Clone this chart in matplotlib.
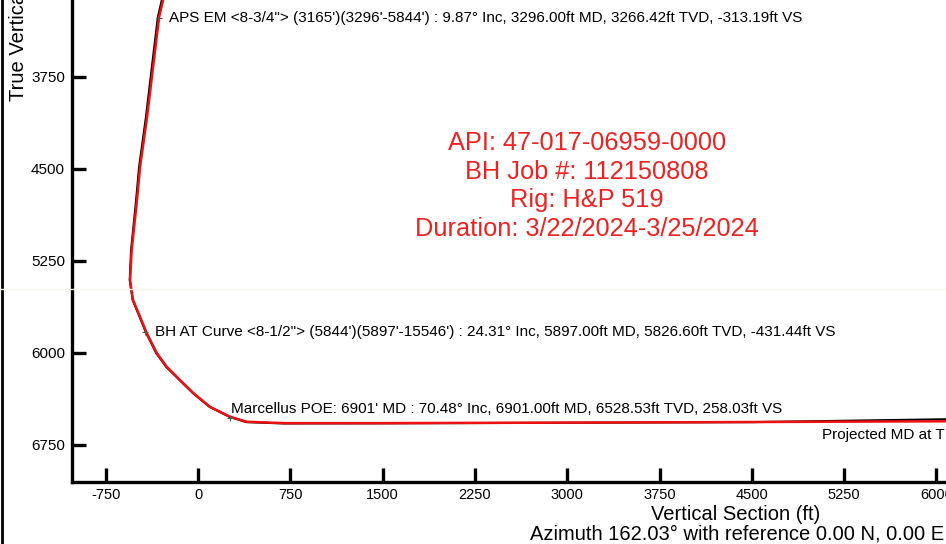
import matplotlib
matplotlib.use("Agg")
import matplotlib.pyplot as plt
from matplotlib.lines import Line2D

plt.rcParams['font.family'] = ['Liberation Sans', 'DejaVu Sans']

# planned wellpath (red)
plan_vs = [0, -20, -100, -230, -284, -316, -365, -414, -471, -496, -539, -552, -528, -471,
           -417, -335, -254, -146, -38, 97, 260, 396, 700, 1500, 3000, 4500, 6100, 9000]
plan_tvd = [0, 1000, 2000, 2800, 3122, 3260, 3668, 4076, 4484, 4753, 5161, 5406, 5569, 5705,
            5838, 6001, 6113, 6221, 6327, 6439, 6520, 6561, 6572, 6572, 6568, 6563, 6557, 6545]

# actual surveys (black)
act_vs = [0, -22, -105, -240, -294, -326, -375, -423, -479, -503, -544, -555, -531, -475,
          -421, -340, -259, -150, -42, 93, 256, 393, 700, 1500, 3000, 4500, 5300, 6100, 9000]
act_tvd = [0, 1000, 2000, 2800, 3122, 3260, 3668, 4076, 4484, 4753, 5161, 5406, 5569, 5705,
           5838, 6001, 6113, 6221, 6327, 6439, 6521, 6564, 6575, 6574, 6569, 6564, 6552, 6540, 6530]

x_ticks = [-750, 0, 750, 1500, 2250, 3000, 3750, 4500, 5250, 6000, 6750, 7500, 8250, 9000]
y_ticks = [0, 750, 1500, 2250, 3000, 3750, 4500, 5250, 6000, 6750]

marker_vs = [-313.19, -431.44, 258.03]
marker_tvd = [3266.42, 5826.60, 6528.53]
marker_text = [
    "APS EM <8-3/4\"> (3165')(3296'-5844') : 9.87\u00b0 Inc, 3296.00ft MD, 3266.42ft TVD, -313.19ft VS",
    "BH AT Curve <8-1/2\"> (5844')(5897'-15546') : 24.31\u00b0 Inc, 5897.00ft MD, 5826.60ft TVD, -431.44ft VS",
    "Marcellus POE: 6901' MD : 70.48\u00b0 Inc, 6901.00ft MD, 6528.53ft TVD, 258.03ft VS",
]

info_lines = ["API: 47-017-06959-0000", "BH Job #: 112150808", "Rig: H&P 519",
              "Duration: 3/22/2024-3/25/2024"]

W, H = 946, 544
fig = plt.figure(figsize=(W / 100, H / 100), dpi=100)
# axes extend past the figure (the reference is a crop of a bigger plot)
ax = fig.add_axes([72 / W, (H - 482) / H, (1388 - 72) / W, (482 + 466) / H])
ax.set_xlim(-1024, 9669)
ax.set_ylim(7052, -676)

ax.plot(act_vs, act_tvd, color="black", lw=1.5, zorder=2)
ax.plot(plan_vs, plan_tvd, color="#ee1111", lw=1.8, zorder=3)

offsets = [(7, 0), (7, 0), (1, 6)]
for v, t, s, off in zip(marker_vs, marker_tvd, marker_text, offsets):
    ax.plot(v, t, marker="+", color="#555555", ms=5, mew=0.8, zorder=4)
    ax.annotate(s, (v, t), xytext=off, textcoords="offset points",
                ha="left", va="center", fontsize=11, color="black")

ax.text(5070, 6668, "Projected MD at TD", ha="left", va="center", fontsize=11)

for i, s in enumerate(info_lines):
    fig.text(587 / W, 1 - (143 + i * 28.7) / H, s, ha="center", va="center",
             fontsize=18.3, color="#ee2222")

ax.set_xticks(x_ticks)
ax.set_xticklabels([str(v) for v in x_ticks])
ax.set_yticks(y_ticks)
ax.set_yticklabels([str(v) for v in y_ticks])
ax.tick_params(direction="in", length=10, width=2.4)
ax.tick_params(axis="x", pad=4, labelsize=10.5)
ax.tick_params(axis="y", pad=5, labelsize=11)
for sp in ax.spines.values():
    sp.set_linewidth(2.4)

fig.text(736 / W, 1 - 515 / H, "Vertical Section (ft)", ha="center", va="center", fontsize=14.5)
fig.text(737 / W, 1 - 534 / H, "Azimuth 162.03\u00b0 with reference 0.00 N, 0.00 E",
         ha="center", va="center", fontsize=14.5)
fig.text(19 / W, 1 - 101 / H, "True Vertical Depth (ft)", rotation=90,
         ha="center", va="bottom", fontsize=14.5)

# left border of the scanned page and faint scan streak
fig.add_artist(Line2D([1.5 / W, 1.5 / W], [0, 1], color="black", lw=2))
fig.add_artist(Line2D([0, 1], [1 - 289 / H, 1 - 289 / H], color="#f7f5ee", lw=1))

fig.savefig("out.png", dpi=100)
